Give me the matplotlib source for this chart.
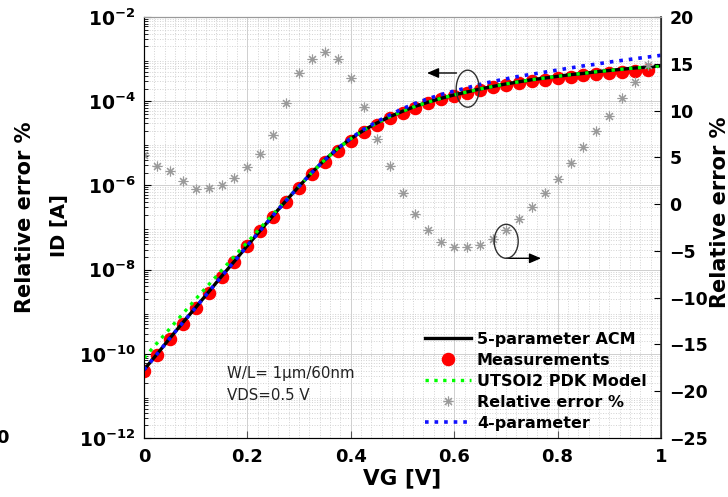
import numpy as np
import matplotlib
matplotlib.use("Agg")
import matplotlib.pyplot as plt
from matplotlib.ticker import MultipleLocator, LogLocator, NullFormatter
from matplotlib.patches import Ellipse

plt.rcParams['font.family'] = ['DejaVu Sans']
plt.rcParams['mathtext.fontset'] = 'dejavusans'

# ---- data ----
vg_meas = [0.000, 0.025, 0.050, 0.075, 0.100, 0.125, 0.150, 0.175, 0.200, 0.225,
           0.250, 0.275, 0.300, 0.325, 0.350, 0.375, 0.400, 0.425, 0.450, 0.475,
           0.500, 0.525, 0.550, 0.575, 0.600, 0.625, 0.650, 0.675, 0.700, 0.725,
           0.750, 0.775, 0.800, 0.825, 0.850, 0.875, 0.900, 0.925, 0.950, 0.975]
# log10(ID) of measurements
log_id_meas = [-10.41, -10.03, -9.65, -9.29, -8.92, -8.55, -8.18, -7.82, -7.45, -7.08,
               -6.74, -6.39, -6.07, -5.74, -5.45, -5.18, -4.95, -4.74, -4.57, -4.40,
               -4.27, -4.15, -4.04, -3.95, -3.88, -3.81, -3.73, -3.67, -3.62, -3.57,
               -3.53, -3.49, -3.45, -3.42, -3.38, -3.35, -3.32, -3.30, -3.28, -3.26]
rel_err = [5.3, 4.07, 3.54, 2.47, 1.62, 1.76, 2.04, 2.76, 4.0, 5.36,
           7.39, 10.84, 13.98, 15.48, 16.23, 15.51, 13.45, 10.41, 6.93, 4.11,
           1.15, -1.06, -2.77, -4.08, -4.55, -4.55, -4.37, -3.76, -2.77, -1.59,
           -0.27, 1.15, 2.68, 4.43, 6.07, 7.82, 9.42, 11.31, 13.02, 14.87]

vg_model = [0.000, 0.025, 0.050, 0.075, 0.100, 0.125, 0.150, 0.175, 0.200, 0.225,
            0.250, 0.275, 0.300, 0.325, 0.350, 0.375, 0.400, 0.425, 0.450, 0.475,
            0.500, 0.525, 0.550, 0.575, 0.600, 0.625, 0.650, 0.675, 0.700, 0.725,
            0.750, 0.775, 0.800, 0.825, 0.850, 0.875, 0.900, 0.925, 0.950, 0.975, 1.000]
log_id_acm5 = [-10.38, -10.01, -9.63, -9.26, -8.90, -8.53, -8.16, -7.80, -7.43, -7.07,
               -6.71, -6.36, -6.02, -5.69, -5.39, -5.12, -4.89, -4.69, -4.52, -4.37,
               -4.24, -4.12, -4.02, -3.93, -3.85, -3.78, -3.71, -3.65, -3.59, -3.54,
               -3.49, -3.45, -3.41, -3.37, -3.34, -3.30, -3.27, -3.24, -3.21, -3.19, -3.16]
log_id_utsoi = [-10.10, -9.75, -9.40, -9.05, -8.70, -8.36, -8.02, -7.68, -7.35, -7.01,
                -6.68, -6.35, -6.02, -5.69, -5.39, -5.12, -4.89, -4.69, -4.52, -4.37,
                -4.24, -4.12, -4.02, -3.93, -3.85, -3.78, -3.71, -3.65, -3.59, -3.54,
                -3.49, -3.45, -3.41, -3.37, -3.34, -3.30, -3.27, -3.24, -3.21, -3.19, -3.16]
log_id_acm4 = [-10.38, -10.01, -9.63, -9.26, -8.90, -8.53, -8.16, -7.80, -7.43, -7.07,
               -6.71, -6.36, -6.02, -5.69, -5.39, -5.12, -4.88, -4.67, -4.49, -4.33,
               -4.18, -4.05, -3.94, -3.84, -3.76, -3.68, -3.60, -3.53, -3.47, -3.41,
               -3.36, -3.31, -3.26, -3.21, -3.16, -3.12, -3.07, -3.03, -2.99, -2.95, -2.91]

xticks = [0, 0.2, 0.4, 0.6, 0.8, 1.0]
xtick_labels = ['0', '0.2', '0.4', '0.6', '0.8', '1']
left_ticks = [1e-12, 1e-10, 1e-8, 1e-6, 1e-4, 1e-2]
left_tick_labels = [r'$\mathbf{10^{-12}}$', r'$\mathbf{10^{-10}}$', r'$\mathbf{10^{-8}}$',
                    r'$\mathbf{10^{-6}}$', r'$\mathbf{10^{-4}}$', r'$\mathbf{10^{-2}}$']
right_ticks = [-25, -20, -15, -10, -5, 0, 5, 10, 15, 20]

# ---- figure ----
W, H = 728, 497
fig = plt.figure(figsize=(W / 100, H / 100), dpi=100)
L, R, T, B = 144, 661, 17, 438
ax = fig.add_axes([L / W, (H - B) / H, (R - L) / W, (B - T) / H])
ax2 = ax.twinx()

id_meas = 10 ** np.array(log_id_meas)
id_acm5 = 10 ** np.array(log_id_acm5)
id_utsoi = 10 ** np.array(log_id_utsoi)
id_acm4 = 10 ** np.array(log_id_acm4)

ax.set_yscale('log')
ax.set_ylim(1e-12, 1e-2)
ax.set_xlim(0, 1)

l_meas, = ax.plot(vg_meas, id_meas, 'o', color='#ff0000', ms=8.7, mec='#ff0000', zorder=3)
l_acm5, = ax.plot(vg_model, id_acm5, '-', color='black', lw=2.4, zorder=4)
l_utsoi, = ax.plot(vg_model, id_utsoi, ':', color='#00ff00', lw=2.4, zorder=5)
l_acm4, = ax.plot(vg_model, id_acm4, ':', color='#1010ff', lw=2.6, zorder=6)

ax2.set_ylim(-25, 20)
l_err, = ax2.plot(vg_meas, rel_err, linestyle='none', marker=(8, 2, 0), ms=7,
                  color='#9a9a9a', mew=0.8)

# grid
ax.xaxis.set_minor_locator(MultipleLocator(0.02))
ax.yaxis.set_major_locator(LogLocator(base=10, numticks=20))
ax.yaxis.set_minor_locator(LogLocator(base=10, subs=np.arange(2, 10), numticks=100))
ax.yaxis.set_minor_formatter(NullFormatter())
ax.grid(which='major', color='#cfcfcf', lw=0.7, ls='-')
ax.grid(which='minor', color='#d2d2d2', lw=0.7, ls=':')
ax.set_axisbelow(True)

ax.set_xticks(xticks)
ax.set_xticklabels(xtick_labels)
ax.set_yticks(left_ticks)
ax.set_yticklabels(left_tick_labels)
ax.tick_params(axis='both', which='both', direction='in', top=False, right=False)
ax.tick_params(axis='x', which='major', labelsize=13, pad=7, length=5, color='#555555')
ax.tick_params(axis='x', which='minor', length=0)
ax.tick_params(axis='y', which='major', labelsize=13.5, pad=6, length=5)
ax.tick_params(axis='y', which='minor', length=3)
for lab in ax.get_xticklabels():
    lab.set_fontweight('bold')

ax2.set_yticks(right_ticks)
ax2.tick_params(axis='y', direction='in', labelsize=12.5, pad=6, length=5)
for lab in ax2.get_yticklabels():
    lab.set_fontweight('bold')

for s in ['top']:
    ax.spines[s].set_color('#9a9a9a')
    ax2.spines[s].set_color('#9a9a9a')
ax2.spines['right'].set_color('#333333')
ax2.spines['right'].set_linewidth(1.2)
ax.spines['left'].set_color('#222222')
ax.spines['bottom'].set_color('#333333')

ax.set_xlabel('VG [V]', fontsize=15.5, fontweight='bold', labelpad=2)

# y labels
fig.text(60 / W, 1 - 226 / H, 'ID [A]', rotation=90, ha='center', va='center',
         fontsize=14, fontweight='bold')
fig.text(25 / W, 1 - 217 / H, 'Relative error %', rotation=90, ha='center', va='center',
         fontsize=15, fontweight='bold')
fig.text(720 / W, 1 - 212 / H, 'Relative error %', rotation=90, ha='center', va='center',
         fontsize=15, fontweight='bold')
fig.text(2 / W, 1 - 438 / H, '0', ha='center', va='center', fontsize=13, fontweight='bold')

# annotation text
def axfrac(px, py):
    return ((px - L) / (R - L), (B - py) / (B - T))

ax.text(*axfrac(227, 373.5), 'W/L= 1μm/60nm', transform=ax.transAxes,
        fontsize=10.8, ha='left', va='center', color='#222222')
ax.text(*axfrac(227, 395), 'VDS=0.5 V', transform=ax.transAxes,
        fontsize=10.8, ha='left', va='center', color='#222222')

# ellipses and arrows
for (cx, cy, ew, eh) in [(467.7, 88.7, 23, 37), (506.2, 241.3, 24, 34)]:
    fx, fy = axfrac(cx, cy)
    ax2.add_patch(Ellipse((fx, fy), ew / (R - L), eh / (B - T), transform=ax2.transAxes,
                          fill=False, edgecolor='#303030', lw=1.0, zorder=10))
ax2.annotate('', xy=axfrac(427, 73), xytext=axfrac(456.5, 73),
             xycoords='axes fraction', textcoords='axes fraction',
             arrowprops=dict(arrowstyle='-|>,head_length=0.7,head_width=0.3',
                             color='black', lw=1.0, shrinkA=0, shrinkB=0))
ax2.annotate('', xy=axfrac(541, 258.3), xytext=axfrac(506.5, 258.3),
             xycoords='axes fraction', textcoords='axes fraction',
             arrowprops=dict(arrowstyle='-|>,head_length=0.7,head_width=0.3',
                             color='black', lw=1.0, shrinkA=0, shrinkB=0))

# legend
leg = ax2.legend([l_acm5, l_meas, l_utsoi, l_err, l_acm4],
                 ['5-parameter ACM', 'Measurements', 'UTSOI2 PDK Model',
                  'Relative error %', '4-parameter'],
                 loc='lower left', bbox_to_anchor=axfrac(425, 431),
                 frameon=False, borderpad=0, borderaxespad=0,
                 handlelength=2.9, handletextpad=0.35, labelspacing=0.38,
                 prop={'weight': 'bold', 'size': 11.5})

fig.savefig('out.png', dpi=100)
